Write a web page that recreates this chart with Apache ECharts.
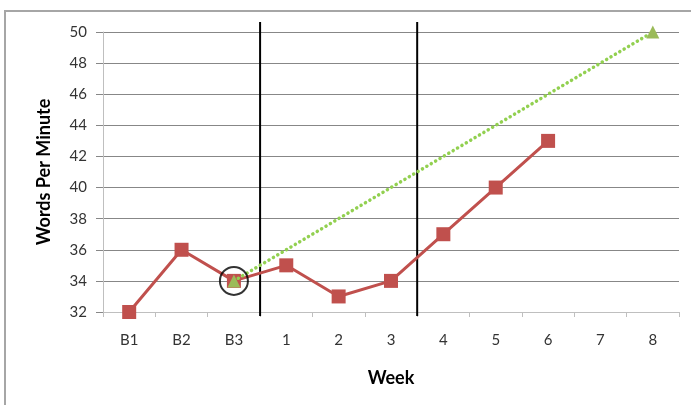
<!DOCTYPE html>
<html>
<head>
<meta charset="utf-8">
<script src="https://cdn.jsdelivr.net/npm/echarts@6/dist/echarts.min.js"></script>
<style>
html,body{margin:0;padding:0;background:#fff;}
#chart{width:691px;height:405px;}
</style>
</head>
<body>
<div id="chart"></div>
<script>
var weeks=['B1','B2','B3','1','2','3','4','5','6','7','8'];
var wpm=[32,36,34,35,33,34,37,40,43,null,null];
var aimline=[null,null,34,null,null,null,null,null,null,null,50];
var circled=[[2,34]];
var phaseLines=[2.5,5.5];
var yTicks={min:32,max:50,step:2};

var chart=echarts.init(document.getElementById('chart'));

var font='Lato';

// phase change lines, drawn on a hidden value x axis (category index units)
var phaseSeries=phaseLines.map(function(x,i){
	return {
		name:'phase'+i,
		type:'line',
		xAxisIndex:1,
		data:[[x,yTicks.max+0.64],[x,yTicks.min-0.26]],
		symbol:'none',
		clip:false,
		silent:true,
		z:1,
		lineStyle:{color:'#000',width:2}
	};
});

var option={
	animation:false,
	textStyle:{fontFamily:font},
	graphic:[{
		type:'rect',
		shape:{x:5,y:11,width:720,height:420},
		style:{fill:null,stroke:'#a6a6a6',lineWidth:2},
		silent:true
	}],
	grid:{left:103,right:12,top:32,bottom:93},
	xAxis:[{
		type:'category',
		data:weeks,
		boundaryGap:true,
		name:'Week',
		nameLocation:'middle',
		nameGap:57,
		nameTextStyle:{fontFamily:font,fontWeight:'bold',fontSize:18,color:'#000'},
		axisLine:{lineStyle:{color:'#bfbfbf',width:1}},
		axisTick:{show:true,length:5,alignWithLabel:false,lineStyle:{color:'#bfbfbf'}},
		axisLabel:{fontFamily:font,fontSize:15,color:'#333',margin:21}
	},{
		type:'value',
		min:-0.5,
		max:weeks.length-0.5,
		show:false
	}],
	yAxis:{
		type:'value',
		min:yTicks.min,
		max:yTicks.max,
		interval:yTicks.step,
		name:'Words Per Minute',
		nameLocation:'middle',
		nameGap:50,
		nameRotate:90,
		nameTextStyle:{fontFamily:font,fontWeight:'bold',fontSize:18,color:'#000'},
		axisLine:{show:true,onZero:false,lineStyle:{color:'#bfbfbf',width:1}},
		axisTick:{show:true,length:7,lineStyle:{color:'#878787'}},
		axisLabel:{fontFamily:font,fontSize:15,color:'#333',margin:16},
		splitLine:{lineStyle:{color:'#878787',width:1}}
	},
	series:[
		{
			name:'Aim',
			type:'line',
			data:aimline,
			connectNulls:true,
			symbol:'triangle',
			symbolSize:13,
			z:3,
			itemStyle:{color:'#9bbb59'},
			lineStyle:{color:'#92d050',width:3.5,type:[0.1,5],cap:'round'}
		},
		{
			name:'WPM',
			type:'line',
			data:wpm,
			symbol:'rect',
			symbolSize:14,
			z:2,
			itemStyle:{color:'#c0504d'},
			lineStyle:{color:'#c0504d',width:3}
		},
		{
			name:'circle',
			type:'scatter',
			data:circled,
			symbol:'circle',
			symbolSize:28,
			z:4,
			itemStyle:{color:'rgba(0,0,0,0)',borderColor:'#000',borderWidth:2}
		}
	].concat(phaseSeries)
};
chart.setOption(option);
</script>
</body>
</html>
